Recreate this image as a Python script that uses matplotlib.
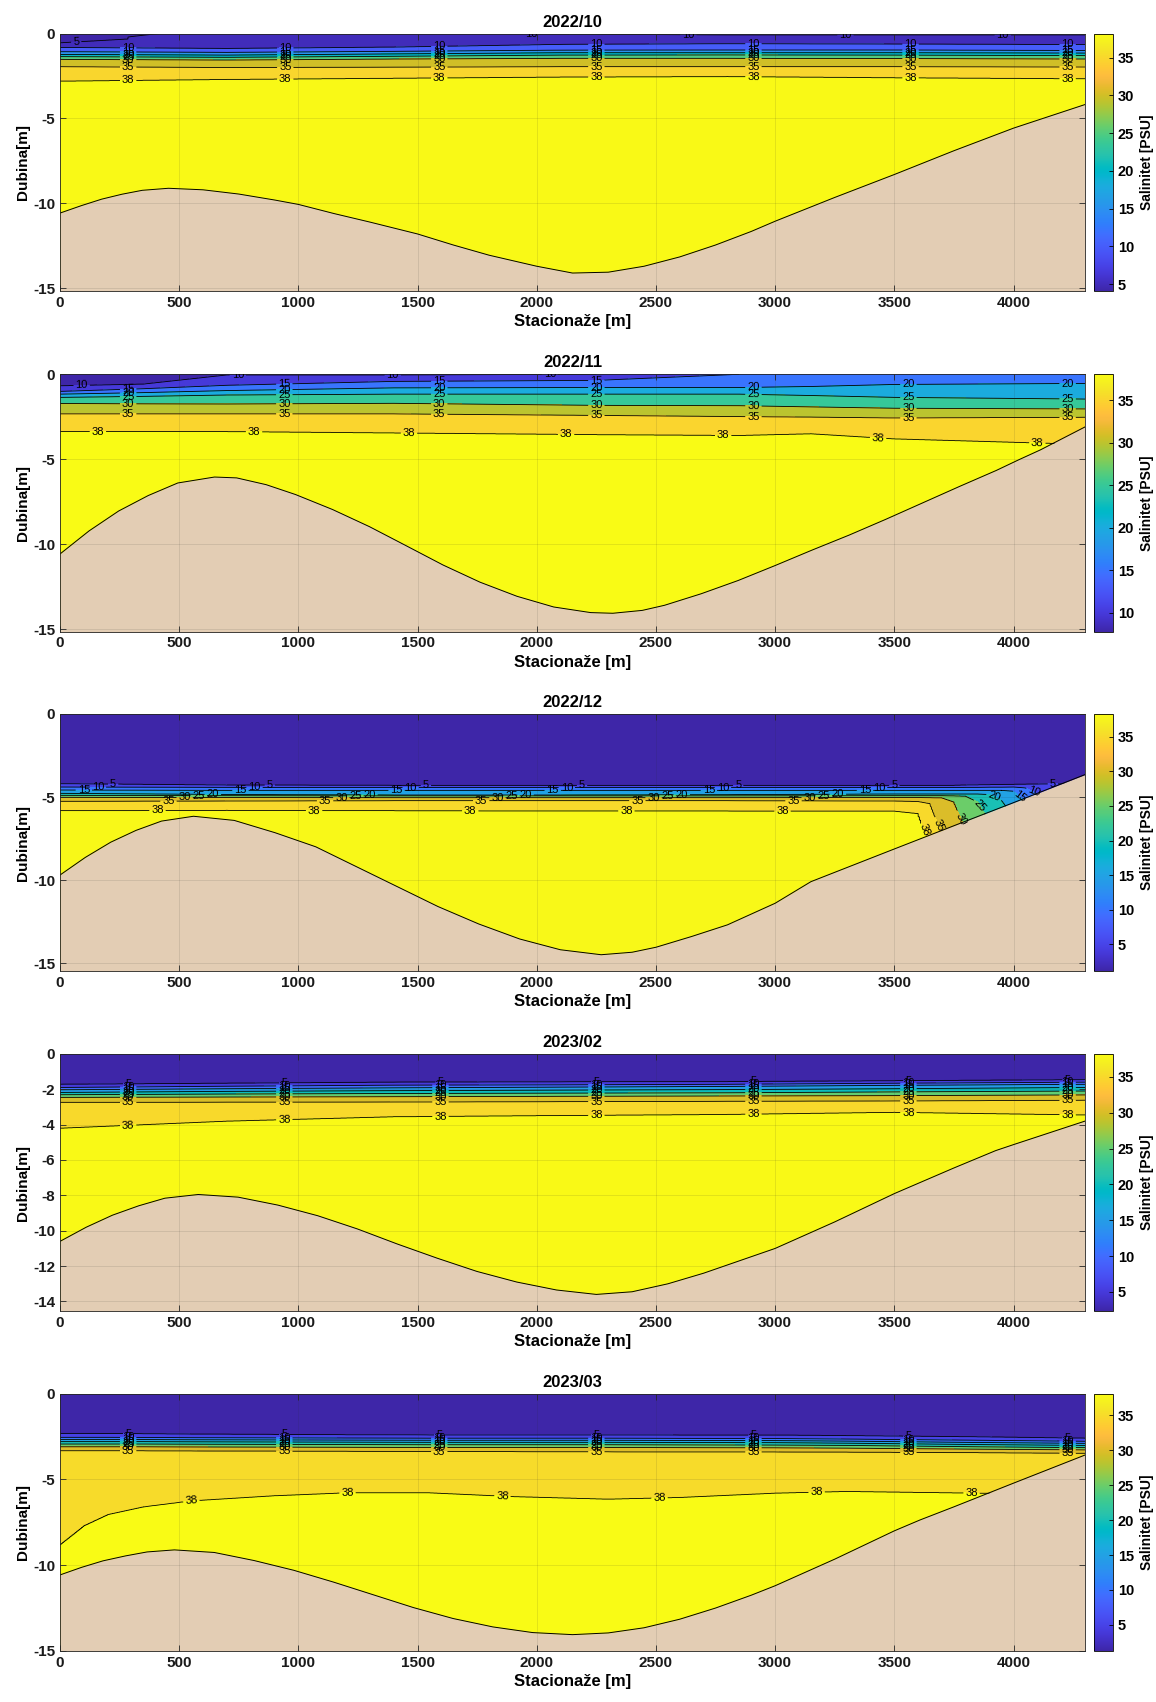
import numpy as np
import matplotlib
matplotlib.use("Agg")
import matplotlib.pyplot as plt
from matplotlib.colors import LinearSegmentedColormap, Normalize
from matplotlib.cm import ScalarMappable

plt.rcParams['font.family'] = ['Liberation Sans', 'DejaVu Sans']
plt.rcParams['font.weight'] = 'bold'
plt.rcParams['axes.titleweight'] = 'bold'
plt.rcParams['axes.labelweight'] = 'bold'
plt.rcParams['axes.unicode_minus'] = False

PARULA = [
    (0.2422, 0.1504, 0.6603), (0.2504, 0.1650, 0.7076), (0.2578, 0.1818, 0.7511), (0.2647, 0.1978, 0.7952),
    (0.2706, 0.2147, 0.8364), (0.2751, 0.2342, 0.8710), (0.2783, 0.2559, 0.8991), (0.2803, 0.2782, 0.9221),
    (0.2813, 0.3006, 0.9414), (0.2810, 0.3228, 0.9579), (0.2795, 0.3447, 0.9717), (0.2760, 0.3667, 0.9829),
    (0.2699, 0.3892, 0.9906), (0.2602, 0.4123, 0.9952), (0.2440, 0.4358, 0.9988), (0.2206, 0.4603, 0.9973),
    (0.1963, 0.4847, 0.9892), (0.1834, 0.5074, 0.9798), (0.1786, 0.5289, 0.9682), (0.1764, 0.5499, 0.9520),
    (0.1687, 0.5703, 0.9359), (0.1540, 0.5902, 0.9218), (0.1460, 0.6091, 0.9079), (0.1380, 0.6276, 0.8973),
    (0.1248, 0.6459, 0.8883), (0.1113, 0.6635, 0.8763), (0.0952, 0.6798, 0.8598), (0.0689, 0.6948, 0.8394),
    (0.0297, 0.7082, 0.8163), (0.0036, 0.7203, 0.7917), (0.0067, 0.7312, 0.7660), (0.0433, 0.7411, 0.7394),
    (0.0964, 0.7500, 0.7120), (0.1408, 0.7584, 0.6842), (0.1717, 0.7670, 0.6554), (0.1938, 0.7758, 0.6251),
    (0.2161, 0.7843, 0.5923), (0.2470, 0.7918, 0.5567), (0.2906, 0.7973, 0.5188), (0.3406, 0.8008, 0.4789),
    (0.3909, 0.8029, 0.4354), (0.4456, 0.8024, 0.3909), (0.5044, 0.7993, 0.3480), (0.5616, 0.7942, 0.3045),
    (0.6174, 0.7876, 0.2612), (0.6720, 0.7793, 0.2227), (0.7242, 0.7698, 0.1910), (0.7738, 0.7598, 0.1646),
    (0.8203, 0.7498, 0.1535), (0.8634, 0.7406, 0.1596), (0.9035, 0.7330, 0.1774), (0.9393, 0.7288, 0.2100),
    (0.9728, 0.7298, 0.2394), (0.9956, 0.7434, 0.2371), (0.9970, 0.7659, 0.2199), (0.9952, 0.7893, 0.2028),
    (0.9892, 0.8136, 0.1885), (0.9786, 0.8386, 0.1766), (0.9676, 0.8639, 0.1643), (0.9610, 0.8890, 0.1537),
    (0.9597, 0.9135, 0.1423), (0.9628, 0.9373, 0.1265), (0.9691, 0.9606, 0.1064), (0.9769, 0.9839, 0.0805),
]
CMAP = LinearSegmentedColormap.from_list('parula', PARULA, N=256)

LEVELS = [5, 10, 15, 20, 25, 30, 35, 38]
TITLES = ["2022/10", "2022/11", "2022/12", "2023/02", "2023/03"]
XTICKS = [0, 500, 1000, 1500, 2000, 2500, 3000, 3500, 4000]
CB_TICKS = [5, 10, 15, 20, 25, 30, 35]

# ---------------- Panel 1 : 2022/10 ----------------
P1_X = [0, 700, 1400, 2100, 2800, 3500, 4300]
P1_S0 = [4.1, 5.6, 9.7, 10.2, 11.0, 11.0, 11.0]
P1_SUB_Z = 0.2
P1_SUB_S = [4.3, 6.0, 8.0, 8.5, 8.5, 8.5, 8.5]
P1_SBOT = 38.2
P1_D = [
    [0.55, 0.00, 0.00, 0.00, 0.00, 0.00, 0.00],
    [0.82, 0.88, 0.80, 0.64, 0.60, 0.62, 0.65],
    [1.07, 1.11, 1.05, 0.98, 0.97, 0.97, 1.00],
    [1.23, 1.27, 1.20, 1.13, 1.13, 1.13, 1.15],
    [1.36, 1.40, 1.34, 1.27, 1.26, 1.27, 1.30],
    [1.52, 1.56, 1.50, 1.46, 1.46, 1.47, 1.50],
    [1.95, 2.00, 1.98, 1.95, 1.95, 1.95, 1.97],
    [2.80, 2.70, 2.63, 2.56, 2.53, 2.60, 2.66],
]
P1_BX = [0, 90, 175, 260, 345, 455, 600, 750, 900, 1000, 1150, 1300, 1500, 1650, 1800, 2000, 2150,
         2300, 2450, 2600, 2750, 2900, 3000, 3250, 3500, 3750, 4000, 4300]
P1_BZ = [10.57, 10.13, 9.75, 9.46, 9.23, 9.11, 9.2, 9.45, 9.8, 10.06, 10.6, 11.1, 11.8, 12.45, 13.05, 13.7, 14.1,
         14.05, 13.7, 13.15, 12.45, 11.65, 11.05, 9.65, 8.3, 6.9, 5.57, 4.18]

# ---------------- Panel 2 : 2022/11 ----------------
P2_X = [0, 350, 700, 1400, 2250, 2850, 3150, 3500, 4300]
P2_S0 = [7.8, 8.6, 9.5, 9.7, 10.0, 15.0, 16.0, 17.0, 17.5]
P2_SBOT = 38.05
P2_D = [
    [0.00, 0.00, 0.00, 0.00, 0.00, 0.00, 0.00, 0.00, 0.00],
    [0.68, 0.58, 0.04, 0.04, 0.00, 0.00, 0.00, 0.00, 0.00],
    [1.01, 0.85, 0.65, 0.42, 0.36, 0.00, 0.00, 0.00, 0.00],
    [1.17, 1.08, 0.96, 0.80, 0.78, 0.78, 0.72, 0.60, 0.54],
    [1.36, 1.30, 1.22, 1.17, 1.17, 1.17, 1.25, 1.36, 1.46],
    [1.72, 1.74, 1.75, 1.71, 1.83, 1.85, 1.92, 2.00, 2.04],
    [2.33, 2.33, 2.33, 2.33, 2.42, 2.49, 2.52, 2.57, 2.53],
    [3.37, 3.37, 3.37, 3.45, 3.55, 3.60, 3.50, 3.80, 4.12],
]
P2_BX = [0, 122, 246, 370, 494, 648, 741, 865, 988, 1143, 1298, 1453, 1607, 1762, 1917, 2071, 2226, 2319,
         2443, 2536, 2690, 2845, 3000, 3155, 3310, 3464, 3619, 3774, 3928, 4021, 4113, 4300]
P2_BZ = [10.58, 9.22, 8.05, 7.14, 6.4, 6.05, 6.1, 6.5, 7.08, 7.96, 8.97, 10.1, 11.23, 12.24, 13.07, 13.7, 14.03, 14.07,
         13.9, 13.6, 12.92, 12.14, 11.26, 10.35, 9.47, 8.54, 7.57, 6.6, 5.66, 5.04, 4.45, 3.1]

# ---------------- Panel 3 : 2022/12 ----------------
P3_X = [0, 700, 1400, 2100, 2800, 3500, 3600, 3650, 3700, 3750, 3800, 3850, 3900, 3950, 4000, 4050, 4100, 4300]
P3_S0 = [1.1] * 18
P3_SBOT = 38.3
P3_D = [
    [4.20, 4.28, 4.30, 4.30, 4.30, 4.30, 4.30, 4.30, 4.30, 4.30, 4.28, 4.27, 4.26, 4.25, 4.24, 4.23, 4.22, 4.20],
    [4.40, 4.42, 4.43, 4.43, 4.43, 4.43, 4.43, 4.43, 4.43, 4.43, 4.42, 4.42, 4.41, 4.41, 4.40, 4.45, 4.80, 6.00],
    [4.58, 4.60, 4.60, 4.60, 4.60, 4.60, 4.60, 4.60, 4.60, 4.60, 4.60, 4.60, 4.60, 4.60, 4.65, 5.30, 6.00, 7.00],
    [4.78, 4.85, 4.88, 4.88, 4.86, 4.82, 4.82, 4.82, 4.82, 4.82, 4.82, 4.82, 4.85, 5.20, 6.20, 6.50, 7.00, 8.00],
    [4.90, 4.92, 4.93, 4.93, 4.93, 4.92, 4.92, 4.92, 4.92, 4.93, 4.95, 5.30, 6.50, 7.00, 7.50, 8.00, 8.50, 9.00],
    [5.02, 5.03, 5.04, 5.04, 5.04, 5.03, 5.03, 5.04, 5.05, 5.30, 7.00, 7.50, 8.00, 8.50, 9.00, 9.50, 10.0, 10.5],
    [5.26, 5.24, 5.22, 5.22, 5.22, 5.24, 5.27, 5.40, 7.30, 9.00, 9.50, 10.0, 10.5, 11.0, 11.5, 12.0, 12.5, 13.0],
    [5.82, 5.80, 5.82, 5.84, 5.84, 5.85, 6.00, 8.00, 10.0, 10.5, 11.0, 11.5, 12.0, 12.5, 13.0, 13.5, 14.0, 14.5],
]
P3_BX = [0, 106, 213, 319, 426, 560, 731, 902, 1073, 1244, 1415, 1586, 1757, 1928, 2099, 2270,
         2400, 2500, 2650, 2800, 3000, 3150, 3500, 3750, 4000, 4300]
P3_BZ = [9.7, 8.64, 7.72, 7.01, 6.45, 6.16, 6.41, 7.15, 8.0, 9.2, 10.4, 11.6, 12.65, 13.55, 14.2, 14.5,
         14.35, 14.05, 13.4, 12.7, 11.4, 10.1, 8.13, 6.73, 5.34, 3.65]

# ---------------- Panel 4 : 2023/02 ----------------
P4_X = [0, 700, 1400, 2100, 2800, 3500, 4300]
P4_S0 = [2.3] * 7
P4_SBOT = 38.2
P4_D = [
    [1.72, 1.66, 1.60, 1.58, 1.57, 1.52, 1.46],
    [1.90, 1.83, 1.77, 1.75, 1.72, 1.66, 1.60],
    [2.03, 1.97, 1.92, 1.88, 1.84, 1.78, 1.72],
    [2.18, 2.12, 2.08, 2.05, 2.02, 1.97, 1.90],
    [2.31, 2.27, 2.24, 2.22, 2.20, 2.15, 2.10],
    [2.46, 2.44, 2.42, 2.40, 2.38, 2.36, 2.32],
    [2.74, 2.73, 2.72, 2.70, 2.68, 2.66, 2.62],
    [4.20, 3.80, 3.55, 3.48, 3.42, 3.30, 3.45],
]
P4_BX = [0, 110, 220, 330, 440, 580, 747, 914, 1081, 1248, 1415, 1582, 1749, 1916, 2083, 2250,
         2400, 2550, 2700, 2850, 3000, 3250, 3500, 3750, 3925, 4000, 4300]
P4_BZ = [10.6, 9.8, 9.12, 8.59, 8.16, 7.95, 8.1, 8.55, 9.15, 9.9, 10.75, 11.55, 12.3, 12.9, 13.35, 13.6,
         13.45, 13.0, 12.4, 11.7, 11.0, 9.5, 7.9, 6.45, 5.47, 5.13, 3.8]

# ---------------- Panel 5 : 2023/03 ----------------
P5_X = [0, 100, 200, 350, 550, 900, 1200, 1550, 1900, 2300, 2600, 3000, 3300, 3850, 4300]
P5_S0 = [1.27] * 15
P5_SBOT = 38.1
P5_D = [
    [2.32, 2.32, 2.33, 2.34, 2.36, 2.38, 2.40, 2.41, 2.41, 2.41, 2.42, 2.42, 2.45, 2.52, 2.60],
    [2.55, 2.55, 2.55, 2.56, 2.57, 2.58, 2.59, 2.60, 2.60, 2.60, 2.61, 2.62, 2.65, 2.72, 2.78],
    [2.67, 2.67, 2.67, 2.68, 2.69, 2.70, 2.71, 2.72, 2.72, 2.72, 2.73, 2.74, 2.77, 2.85, 2.90],
    [2.80, 2.80, 2.80, 2.80, 2.81, 2.82, 2.83, 2.84, 2.84, 2.84, 2.85, 2.86, 2.89, 2.97, 3.02],
    [2.94, 2.94, 2.94, 2.94, 2.95, 2.96, 2.97, 2.98, 2.98, 2.98, 2.99, 3.00, 3.02, 3.10, 3.15],
    [3.10, 3.10, 3.10, 3.10, 3.11, 3.12, 3.13, 3.14, 3.14, 3.14, 3.15, 3.16, 3.18, 3.24, 3.28],
    [3.33, 3.33, 3.33, 3.33, 3.34, 3.35, 3.36, 3.37, 3.38, 3.39, 3.40, 3.40, 3.41, 3.44, 3.48],
    [8.80, 7.70, 7.05, 6.60, 6.25, 5.95, 5.78, 5.78, 6.00, 6.15, 6.05, 5.80, 5.70, 5.80, 5.85],
]
P5_BX = [0, 90, 180, 275, 365, 480, 647, 814, 981, 1148, 1315, 1482, 1649, 1816, 1983, 2150,
         2300, 2450, 2600, 2750, 2900, 3000, 3250, 3500, 3607, 3750, 3884, 4000, 4300]
P5_BZ = [10.57, 10.13, 9.75, 9.46, 9.23, 9.11, 9.26, 9.73, 10.3, 10.99, 11.73, 12.47, 13.11, 13.6, 13.93, 14.05,
         13.95, 13.65, 13.15, 12.5, 11.75, 11.2, 9.65, 8.0, 7.37, 6.6, 5.86, 5.22, 3.58]

# ---------------- layout (positions / styles) ----------------
Y_BOTTOM = [-15.15, -15.15, -15.5, -14.55, -15.0]
Y_TICKS = [[-15, -10, -5, 0], [-15, -10, -5, 0], [-15, -10, -5, 0],
           [-14, -12, -10, -8, -6, -4, -2, 0], [-15, -10, -5, 0]]
AX_BOTTOMS = [0.8291, 0.6289, 0.4293, 0.2296, 0.0300]
AX_LEFT, AX_W, AX_H = 0.0519, 0.8867, 0.1512
CB_LEFT, CB_W = 0.9464, 0.0164
TAN = '#E3CDB4'

LABEL_BASE = [
    [286, 945, 1591, 2250, 2909, 3568, 4227],
    [286, 941, 1591, 2250, 2909, 3559, 4227],
    [223, 880, 1535, 2190, 2845, 3500],
    [286, 941, 1596, 2250, 2909, 3559, 4227],
    [286, 941, 1591, 2250, 2909, 3559, 4227],
]
LABEL_OFFSET = [
    [-218, 0, 0, 0, 0, 0, 0, 0],
    [0, -195, 0, 0, 0, 0, 0, -127],
    [0, -64, -123, 418, 359, 300, 232, 186],
    [0, 0, 0, 0, 0, 0, 0, 0],
    [0, 0, 0, 0, 0, 0, 0, 265],
]
# (level, x) or (level, x, depth hint) for labels off the regular grid
LABEL_EXTRA = [
    [(10, 1977, 0.05), (10, 2636, 0.07), (10, 3295, 0.07), (10, 3955, 0.07)],
    [],
    [(38, 3625), (35, 3685), (30, 3780), (15, 4025), (10, 4085), (5, 4165)],
    [],
    [],
]

PANELS = [
    (P1_X, P1_S0, P1_SBOT, P1_D, P1_BX, P1_BZ, P1_SUB_Z, P1_SUB_S),
    (P2_X, P2_S0, P2_SBOT, P2_D, P2_BX, P2_BZ, None, None),
    (P3_X, P3_S0, P3_SBOT, P3_D, P3_BX, P3_BZ, None, None),
    (P4_X, P4_S0, P4_SBOT, P4_D, P4_BX, P4_BZ, None, None),
    (P5_X, P5_S0, P5_SBOT, P5_D, P5_BX, P5_BZ, None, None),
]

X_MAX = 4300
xg = np.linspace(0, X_MAX, 861)
zg = np.linspace(0, 16, 1601)


def build_field(X, S0, D, sbot, sub_z, sub_s):
    X = np.asarray(X, float)
    s0x = np.interp(xg, X, S0)
    subx = np.interp(xg, X, sub_s) if sub_s is not None else None
    dx = np.array([np.interp(xg, X, row) for row in D])
    F = np.empty((len(zg), len(xg)))
    for j in range(len(xg)):
        kz = [0.0]
        kv = [s0x[j]]
        if subx is not None:
            kz.append(sub_z)
            kv.append(subx[j])
        for L, d in zip(LEVELS, dx[:, j]):
            if L > kv[-1] and d > kz[-1]:
                kz.append(d)
                kv.append(L)
        kz.append(zg[-1])
        kv.append(sbot)
        F[:, j] = np.interp(zg, kz, kv)
    return F


fig = plt.figure(figsize=(11.56, 17.02), dpi=100)

for k, (X, S0, sbot, D, BX, BZ, SUBZ, SUBS) in enumerate(PANELS):
    ax = fig.add_axes([AX_LEFT, AX_BOTTOMS[k], AX_W, AX_H])
    F = build_field(X, S0, D, sbot, SUBZ, SUBS)
    vmin, vmax = min(S0), sbot
    norm = Normalize(vmin, vmax)
    used = [L for L in LEVELS if vmin < L < vmax]
    bounds = [vmin - 1] + used + [vmax + 1]
    fill_colors = [CMAP(norm(vmin))] + [CMAP(norm(L)) for L in used]
    Y = -zg
    ax.contourf(xg, Y, F, levels=bounds, colors=fill_colors, zorder=1)

    bx = np.asarray(BX, float)
    bz = np.asarray(BZ, float)
    ax.fill_between(bx, -bz, Y_BOTTOM[k] - 2, color=TAN, lw=0, zorder=1.8)
    ax.plot(bx, -bz, color='k', lw=0.7, zorder=1.9)

    # label candidate positions (x from layout, depth from the data)
    pos = {L: [] for L in used}
    cand = []
    for i, L in enumerate(LEVELS):
        for xb in LABEL_BASE[k]:
            cand.append((L, xb + LABEL_OFFSET[k][i]))
    cand += LABEL_EXTRA[k]
    for c in cand:
        L, xl = c[0], c[1]
        if L not in pos or xl < 0 or xl > X_MAX:
            continue
        bot = np.interp(xl, bx, bz)
        if len(c) > 2:
            pos[L].append((xl, -c[2]))
            continue
        i = LEVELS.index(L)
        d = np.interp(xl, X, D[i])
        ix = int(round(xl / X_MAX * (len(xg) - 1)))
        iz = int(round(d / zg[-1] * (len(zg) - 1)))
        if 0.005 < d < bot - 0.1 and abs(F[iz, ix] - L) < 0.6:
            pos[L].append((xl, -d))

    for L in used:
        csL = ax.contour(xg, Y, F, levels=[L], colors='k', linewidths=0.6, zorder=1.5)
        if pos[L]:
            texts = ax.clabel(csL, manual=pos[L], inline=True,
                              inline_spacing=2, fontsize=8, fmt='%d')
            for t in texts:
                t.set_fontweight('normal')

    ax.set_xlim(0, X_MAX)
    ax.set_ylim(Y_BOTTOM[k], 0)
    ax.set_xticks(XTICKS)
    ax.set_yticks(Y_TICKS[k])
    ax.set_axisbelow(False)
    ax.grid(True, color='#262626', alpha=0.15, lw=0.5)
    ax.tick_params(direction='in', top=True, right=True, length=4, width=0.6,
                   labelsize=11, colors='#262626', labelcolor='#1a1a1a')
    for s in ax.spines.values():
        s.set_linewidth(0.6)
        s.set_color('#262626')
    ax.set_title(TITLES[k], fontsize=12, pad=5)
    ax.set_xlabel('Stacionaže [m]', fontsize=12, labelpad=3)
    ax.set_ylabel('Dubina[m]', fontsize=11, labelpad=2)

    cax = fig.add_axes([CB_LEFT, AX_BOTTOMS[k], CB_W, AX_H])
    cb = fig.colorbar(ScalarMappable(norm=norm, cmap=CMAP), cax=cax)
    cb.set_ticks([t for t in CB_TICKS if vmin <= t <= vmax])
    cax.tick_params(direction='in', length=3, width=0.6, labelsize=10.5)
    cb.outline.set_linewidth(0.6)
    cb.set_label('Salinitet [PSU]', fontsize=10, labelpad=4)

fig.savefig('out.png', dpi=100)
